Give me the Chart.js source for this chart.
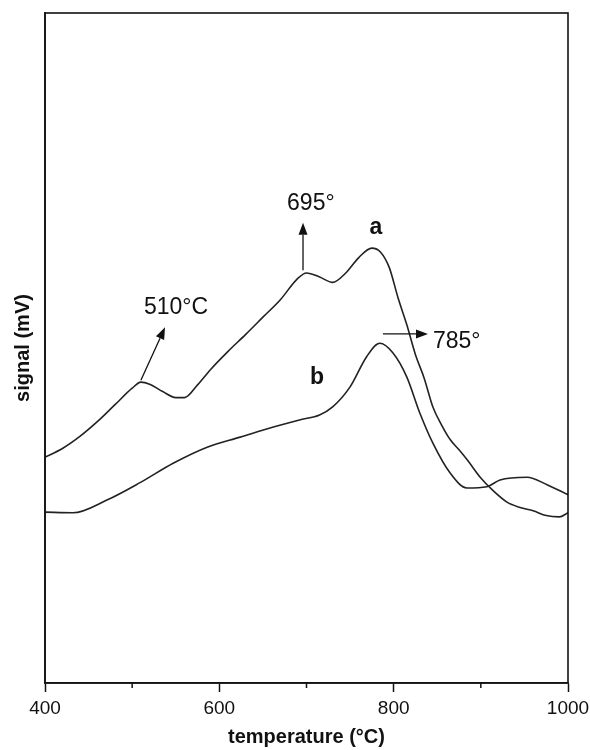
<!DOCTYPE html>
<html>
<head>
<meta charset="utf-8">
<script src="https://cdn.jsdelivr.net/npm/chart.js@4.4.0/dist/chart.umd.min.js"></script>
<style>
  html, body { margin: 0; padding: 0; background: #fff; }
  #wrap { width: 590px; height: 750px; }
</style>
</head>
<body>
<div id="wrap"><canvas id="c" width="590" height="750"></canvas></div>
<script>
// Temperature (°C) and signal (arbitrary)
const tempA = [400,420,440,460,480,500,510,520,535,550,560,575,590,610,630,650,670,690,700,715,730,745,760,775,785,795,805,815,825,835,845,855,865,875,885,900,915,930,945,960,975,990,1000];
const signalA = [33.7,35.0,36.8,39.0,41.5,44.0,44.9,44.6,43.5,42.6,42.6,44.5,46.8,49.5,52.0,54.6,57.2,60.4,61.2,60.6,59.8,61.2,63.5,64.9,64.3,62.0,57.5,53.5,49.0,45.5,41.2,38.5,36.3,34.8,33.2,30.6,28.6,27.0,26.2,25.7,25.0,24.8,25.4];

const tempB = [400,432,471,509,547,586,624,662,693,715,730,750,769,784,799,815,830,845,865,884,907,922,953,976,1000];
const signalB = [25.5,25.4,27.3,29.9,32.8,35.2,36.7,38.2,39.3,40.0,41.2,44.2,48.7,50.7,49.3,45.7,40.3,35.8,31.3,29.1,29.3,30.3,30.7,29.6,28.1];

const xTicks = [400,600,800,1000];
const xMinorTicks = [500,700,900];

// Annotations in data coordinates
const arrows = [
  { from: [510, 45.2], to: [537.7, 53.1] },
  { from: [696, 61.6], to: [696, 68.7] },
  { from: [787.7, 52.1], to: [839.4, 52.1] }
];
const labels = [
  { text: '510°C', at: [550.3, 56.0], bold: false, align: 'center' },
  { text: '695°', at: [705, 71.6], bold: false, align: 'center' },
  { text: 'a', at: [779.7, 67.9], bold: true, align: 'center' },
  { text: 'b', at: [712, 45.5], bold: true, align: 'center' },
  { text: '785°', at: [845, 50.9], bold: false, align: 'left' }
];

const FONT = '"Liberation Sans", Arial, sans-serif';

const toXY = (xs, ys) => xs.map((x, i) => ({ x: x, y: ys[i] }));

const annoPlugin = {
  id: 'anno',
  afterDatasetsDraw(chart) {
    const { ctx, chartArea: ca, scales: { x, y } } = chart;
    ctx.save();
    // frame
    ctx.strokeStyle = '#111';
    ctx.lineWidth = 1.6;
    ctx.strokeRect(ca.left, ca.top, ca.right - ca.left, ca.bottom - ca.top);
    // minor ticks
    ctx.lineWidth = 1.5;
    xMinorTicks.forEach(t => {
      const px = x.getPixelForValue(t);
      ctx.beginPath(); ctx.moveTo(px, ca.bottom); ctx.lineTo(px, ca.bottom + 5); ctx.stroke();
    });
    // arrows
    ctx.strokeStyle = '#111';
    ctx.fillStyle = '#111';
    ctx.lineWidth = 1.3;
    arrows.forEach(a => {
      const x1 = x.getPixelForValue(a.from[0]), y1 = y.getPixelForValue(a.from[1]);
      const x2 = x.getPixelForValue(a.to[0]), y2 = y.getPixelForValue(a.to[1]);
      const ang = Math.atan2(y2 - y1, x2 - x1);
      const hl = 12, hw = 4.5;
      const bx = x2 - hl * Math.cos(ang), by = y2 - hl * Math.sin(ang);
      ctx.beginPath(); ctx.moveTo(x1, y1); ctx.lineTo(bx, by); ctx.stroke();
      ctx.beginPath();
      ctx.moveTo(x2, y2);
      ctx.lineTo(bx + hw * Math.sin(ang), by - hw * Math.cos(ang));
      ctx.lineTo(bx - hw * Math.sin(ang), by + hw * Math.cos(ang));
      ctx.closePath(); ctx.fill();
    });
    // labels
    ctx.textBaseline = 'middle';
    labels.forEach(l => {
      ctx.font = (l.bold ? 'bold ' : '') + '23px ' + FONT;
      ctx.textAlign = l.align;
      ctx.fillText(l.text, x.getPixelForValue(l.at[0]), y.getPixelForValue(l.at[1]));
    });
    ctx.restore();
  }
};

new Chart(document.getElementById('c'), {
  type: 'line',
  data: {
    datasets: [
      { label: 'a', data: toXY(tempA, signalA), borderColor: '#222', borderWidth: 1.6, pointRadius: 0, cubicInterpolationMode: 'monotone', fill: false },
      { label: 'b', data: toXY(tempB, signalB), borderColor: '#222', borderWidth: 1.6, pointRadius: 0, cubicInterpolationMode: 'monotone', fill: false }
    ]
  },
  options: {
    responsive: false,
    animation: false,
    layout: { padding: { top: 13, right: 22, left: 0, bottom: 0 } },
    plugins: { legend: { display: false }, tooltip: { enabled: false } },
    scales: {
      x: {
        type: 'linear',
        min: 400, max: 1000,
        afterBuildTicks: s => { s.ticks = xTicks.map(v => ({ value: v })); },
        afterFit: s => { s.height = 67; s.paddingRight = 0; s.paddingLeft = 0; },
        ticks: { color: '#111', font: { family: FONT, size: 19 }, padding: 5, maxRotation: 0, autoSkip: false, callback: v => String(v) },
        grid: { drawOnChartArea: false, drawTicks: true, tickLength: 9, tickWidth: 1.5, tickColor: '#111' },
        border: { display: true, color: '#111', width: 1.6 },
        title: { display: true, text: 'temperature (°C)', color: '#111', font: { family: FONT, size: 20, weight: 'bold' }, padding: { top: 2, bottom: 1 } }
      },
      y: {
        type: 'linear',
        min: 0, max: 100,
        afterFit: s => { s.width = 45; },
        ticks: { display: false },
        grid: { display: false },
        border: { display: true, color: '#444', width: 2 },
        title: { display: true, text: 'signal (mV)', color: '#111', font: { family: FONT, size: 20, weight: 'bold' }, padding: { top: 11, bottom: 0 } }
      }
    }
  },
  plugins: [annoPlugin]
});
</script>
</body>
</html>
